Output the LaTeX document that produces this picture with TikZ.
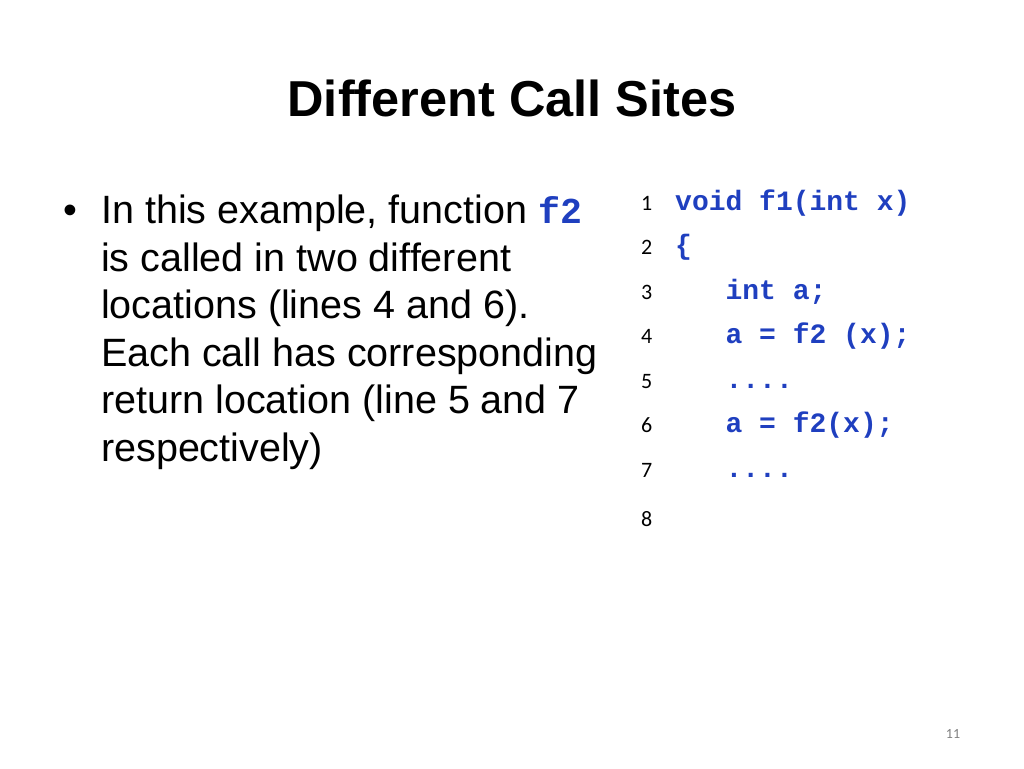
\documentclass[tikz,border=0pt]{standalone}
\usepackage{fontspec}
\setmainfont{Liberation Sans}
\newfontfamily\codefont{Liberation Mono}
\newfontfamily\numfont{Carlito}
\definecolor{codeblue}{RGB}{31,63,191}
\begin{document}
\begin{tikzpicture}[x=1pt,y=-1pt,
  body/.style={anchor=base west,inner sep=0,font=\fontsize{39.5}{40}\selectfont},
  code/.style={anchor=base west,inner sep=0,text=codeblue,font=\codefont\bfseries\fontsize{28}{28}\selectfont},
  lnum/.style={anchor=base west,inner sep=0,font=\numfont\fontsize{22}{22}\selectfont}]
\useasboundingbox (0,0) rectangle (1024,768);
\node[anchor=base,inner sep=0,font=\bfseries\fontsize{50.5}{51}\selectfont] (title) at (512,116) {Different Call Sites};
\node[body,anchor=base] (bul) at (70,223) {•};
\node[body] (b1) at (101,223) {In this example, function {\codefont\bfseries\color{codeblue}\fontsize{36.5}{36}\selectfont f2}};
\node[body] (b2) at (101,271) {is called in two different};
\node[body] (b3) at (101,318) {locations (lines 4 and 6).};
\node[body] (b4) at (101,366) {Each call has corresponding};
\node[body] (b5) at (101,413) {return location (line 5 and 7};
\node[body] (b6) at (101,461) {respectively)};
\foreach \n/\y in {1/210,2/254,3/299,4/343,5/388,6/432,7/477,8/526}
  \node[lnum] (n\n) at (641,\y) {\n};
\node[code] (c1) at (675,210) {void f1(int x)};
\node[code] (c2) at (675,254) {\{};
\node[code] (c3) at (675,299) {\ \ \ int a;};
\node[code] (c4) at (675,343) {\ \ \ a = f2 (x);};
\node[code] (c5) at (675,388) {\ \ \ ....};
\node[code] (c6) at (675,432) {\ \ \ a = f2(x);};
\node[code] (c7) at (675,477) {\ \ \ ....};
\node[anchor=base,inner sep=0,text=gray,font=\numfont\fontsize{14}{14}\selectfont] (pg) at (953,738) {11};
\end{tikzpicture}
\end{document}
